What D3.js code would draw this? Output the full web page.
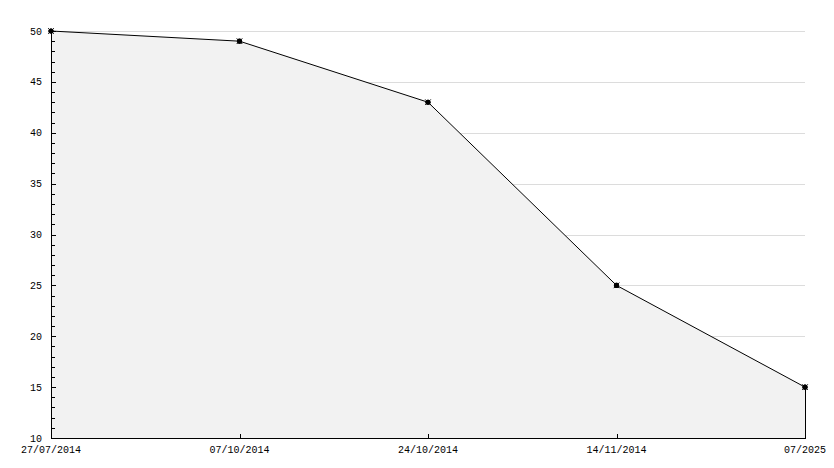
<!DOCTYPE html>
<html>
<head>
<meta charset="utf-8">
<script src="https://cdn.jsdelivr.net/npm/d3@7"></script>
<style>
html,body{margin:0;padding:0;background:#fff;}
svg{display:block;}
text{font-family:"Liberation Mono","DejaVu Sans Mono",monospace;font-size:10px;fill:#000;}
</style>
</head>
<body>
<svg id="chart" width="834" height="468"></svg>
<script>
const categories = ["27/07/2014", "07/10/2014", "24/10/2014", "14/11/2014", "07/2025"];
const values = [50, 49, 43, 25, 15];
const yTicks = [10, 15, 20, 25, 30, 35, 40, 45, 50];

const W = 834, H = 468;
const m = {left: 51, right: 29, top: 31, bottom: 30};
const svg = d3.select("#chart");

const x = d3.scalePoint().domain(categories).range([m.left, W - m.right]);
const y = d3.scaleLinear().domain([10, 50]).range([H - m.bottom, m.top]);

const data = categories.map((c, i) => ({c, v: values[i]}));

// gridlines
svg.append("g").selectAll("line").data(yTicks.filter(t => t > 10)).join("line")
  .attr("x1", m.left).attr("x2", W - m.right)
  .attr("y1", d => Math.round(y(d)) + 0.5).attr("y2", d => Math.round(y(d)) + 0.5)
  .attr("stroke", "#dcdcdc").attr("stroke-width", 1);

// area
const area = d3.area().x(d => x(d.c)).y0(y(10)).y1(d => y(d.v));
svg.append("path").datum(data).attr("d", area).attr("fill", "#f2f2f2");

// line
const line = d3.line().x(d => x(d.c)).y(d => y(d.v));
svg.append("path").datum(data).attr("d", line).attr("fill", "none").attr("stroke", "#000").attr("stroke-width", 1);

// right vertical edge
const last = data[data.length - 1];
svg.append("line")
  .attr("x1", Math.round(x(last.c)) + 0.5).attr("x2", Math.round(x(last.c)) + 0.5)
  .attr("y1", y(last.v)).attr("y2", y(10))
  .attr("stroke", "#000").attr("stroke-width", 1);

// y axis
const yMinor = d3.range(10, 50.01, 1);
const gy = svg.append("g");
gy.append("line").attr("x1", m.left + 0.5).attr("x2", m.left + 0.5)
  .attr("y1", y(50)).attr("y2", y(10)).attr("stroke", "#000");
gy.selectAll("line.minor").data(yMinor).join("line").attr("class", "minor")
  .attr("x1", m.left).attr("x2", d => m.left + (d % 5 === 0 ? 5 : 4))
  .attr("y1", d => Math.round(y(d)) + 0.5).attr("y2", d => Math.round(y(d)) + 0.5)
  .attr("stroke", "#000");
gy.selectAll("text").data(yTicks).join("text")
  .attr("x", m.left - 9).attr("y", d => y(d)).attr("dy", "0.35em")
  .attr("text-anchor", "end").text(d => d);

// x axis
const gx = svg.append("g");
gx.append("line").attr("x1", m.left).attr("x2", W - m.right + 1)
  .attr("y1", Math.round(y(10)) + 0.5).attr("y2", Math.round(y(10)) + 0.5).attr("stroke", "#000");
gx.selectAll("line.tick").data(categories).join("line").attr("class", "tick")
  .attr("x1", d => Math.round(x(d)) + 0.5).attr("x2", d => Math.round(x(d)) + 0.5)
  .attr("y1", y(10)).attr("y2", y(10) - 4).attr("stroke", "#000");
gx.selectAll("text").data(categories).join("text")
  .attr("x", d => x(d)).attr("y", y(10) + 11).attr("dy", "0.35em")
  .attr("text-anchor", "middle").text(d => d);

// markers
const mk = svg.append("g").selectAll("g").data(data).join("g")
  .attr("transform", d => `translate(${x(d.c)},${y(d.v)})`);
mk.append("circle").attr("r", 2.6).attr("fill", "#000");
mk.append("path")
  .attr("d", d3.symbol().type(d3.symbolTimes).size(22))
  .attr("fill", "none").attr("stroke", "#000").attr("stroke-width", 1);
mk.append("path")
  .attr("d", d3.symbol().type(d3.symbolCross).size(14))
  .attr("fill", "#000");
</script>
</body>
</html>
